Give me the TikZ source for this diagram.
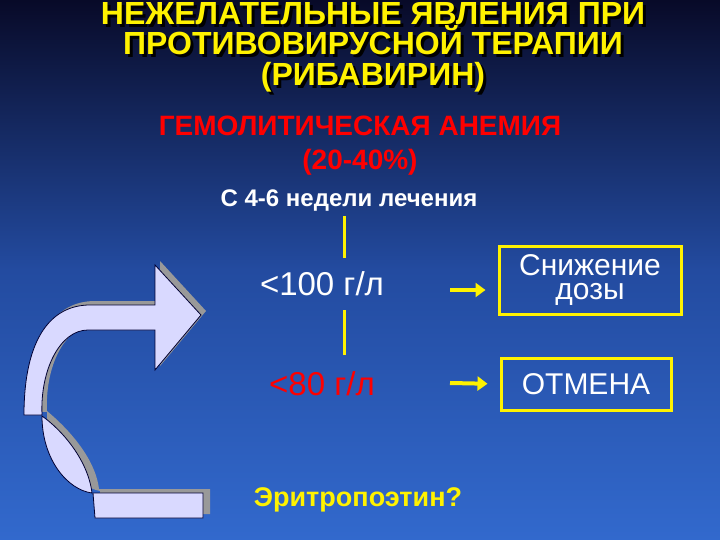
\documentclass[tikz,border=0pt]{standalone}
\usetikzlibrary{arrows.meta}
\usepackage{fontspec}
\setmainfont{Liberation Sans}
\begin{document}
\begin{tikzpicture}[x=1pt,y=-1pt,
  ttl/.style={font=\bfseries\fontsize{32}{30.5}\selectfont, align=center, text=yellow},
  shad/.style={font=\bfseries\fontsize{32}{30.5}\selectfont, align=center, text=black},
  box/.style={draw=yellow, line width=3pt, text=white, align=center, font=\fontsize{30}{24}\selectfont, minimum height=68pt, inner sep=2pt},
  vl/.style={yellow, line width=3pt},
  ar/.style={yellow, line width=4pt, -{Triangle[length=10pt,width=14pt]}, shorten >=12pt},
  pale/.style={fill=blue!15!white, draw=black!80!blue, line width=0.8pt},
  shd/.style={fill=gray!80}]
\shade[top color={rgb,255:red,8;green,10;blue,40}, bottom color={rgb,255:red,50;green,105;blue,205}, middle color={rgb,255:red,35;green,75;blue,160}] (0,0) rectangle (720,540);
\useasboundingbox (0,0) rectangle (720,540);
\node[shad] (ts) at (376,50) {НЕЖЕЛАТЕЛЬНЫЕ ЯВЛЕНИЯ ПРИ\\ПРОТИВОВИРУСНОЙ ТЕРАПИИ\\(РИБАВИРИН)};
\node[ttl] (t) at (373,47) {НЕЖЕЛАТЕЛЬНЫЕ ЯВЛЕНИЯ ПРИ\\ПРОТИВОВИРУСНОЙ ТЕРАПИИ\\(РИБАВИРИН)};
\node[text=red, font=\bfseries\fontsize{28}{34}\selectfont, align=center] (h) at (360,146) {ГЕМОЛИТИЧЕСКАЯ АНЕМИЯ\\(20-40\%)};
\node[text=white, font=\bfseries\fontsize{24}{20}\selectfont] (w) at (349,201) {С 4-6 недели лечения};
\coordinate (v1a) at (344,216); \coordinate (v1b) at (344,258);
\coordinate (v2a) at (344,310); \coordinate (v2b) at (344,355);
\draw[vl] (v1a) -- (v1b); \draw[vl] (v2a) -- (v2b);
\node[text=white, font=\fontsize{33}{26}\selectfont] (g1) at (322,284) {<100 г/л};
\node[text=red, font=\fontsize{33}{26}\selectfont] (g2) at (322,384) {<80 г/л};
\node[box, minimum width=182pt] (b1) at (590,280) {Снижение\\дозы};
\node[box, minimum width=170pt, minimum height=52pt] (b2) at (586,384) {ОТМЕНА};
\coordinate (a1) at (450,290); \coordinate (a2) at (450,383);
\draw[ar] (a1) -- (a1 -| b1.west);
\draw[ar] (a2) -- (b2.west);
\node[text=yellow, font=\bfseries\fontsize{27}{22}\selectfont] (e) at (358,500) {Эритропоэтин?};
\begin{scope}[shift={(5,-4)}]
\fill[shd] (24,415) .. controls (24,340) and (50,305) .. (90,305) -- (155,305) -- (155,265) -- (201,315) -- (155,370) -- (155,330) -- (88,330) .. controls (60,330) and (40,370) .. (42,415) .. controls (60,430) and (90,460) .. (94,493) -- (205,493) -- (205,518) -- (95,518) -- (95,495) .. controls (70,490) and (42,460) .. (42,416) -- cycle;
\end{scope}
\draw[pale] (24,415) .. controls (24,340) and (50,305) .. (90,305) -- (155,305) -- (155,265) -- (201,315) -- (155,370) -- (155,330) -- (88,330) .. controls (60,330) and (40,370) .. (42,415) -- cycle;
\draw[pale] (42,416) .. controls (62,430) and (88,460) .. (92,493) .. controls (68,490) and (42,460) .. (42,416) -- cycle;
\draw[pale] (93,493) -- (203,493) -- (203,518) -- (95,518) -- cycle;
\end{tikzpicture}
\end{document}
